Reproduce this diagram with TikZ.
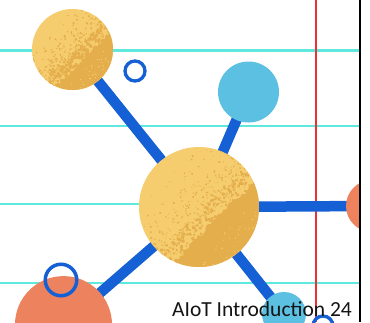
\documentclass[tikz,border=0pt]{standalone}
\usepackage{fontspec}
\setmainfont{Carlito}
\usetikzlibrary{backgrounds}

\definecolor{ruleCyan}{RGB}{95,232,222}
\definecolor{marginRed}{RGB}{235,50,50}
\definecolor{linkBlue}{RGB}{22,96,214}
\definecolor{skyBlue}{RGB}{92,192,227}
\definecolor{coralOrange}{RGB}{236,131,94}
\definecolor{sunLight}{RGB}{245,205,110}
\definecolor{sunDark}{RGB}{229,174,76}

% speckled shading on the lower-right half of a yellow ball
% #1 centre, #2 radius, #3 random seed
\newcommand\sunspeckle[3]{%
  \begin{scope}
    \clip (#1) circle (#2);
    \begin{scope}[shift={(#1)}, rotate=-45]
      \pgfmathsetseed{#3}
      % ragged edge of the shaded part
      \fill[sunDark] plot[domain=-1.1:1.1, samples=45]
          ({#2*(0.3+0.1*rnd)},{#2*\x})
          -- (#2+3,1.1*#2) -- (#2+3,-1.1*#2) -- cycle;
      % blotches along the edge
      \foreach \k in {1,...,180}{
        \pgfmathsetmacro\spa{#2*(0.36-0.3*rnd)}
        \pgfmathsetmacro\spb{#2*(2*rnd-1)}
        \pgfmathsetmacro\spr{0.5+1.5*rnd}
        \fill[sunDark] (\spa,\spb) circle (\spr);
      }
      % loose grains drifting into the light part
      \foreach \k in {1,...,380}{
        \pgfmathsetmacro\spa{#2*(0.2-0.95*rnd*rnd)}
        \pgfmathsetmacro\spb{#2*(2*rnd-1)}
        \pgfmathsetmacro\spr{0.4+0.8*rnd}
        \fill[sunDark] (\spa,\spb) circle (\spr);
      }
      % light grains scattered inside the shaded part
      \foreach \k in {1,...,60}{
        \pgfmathsetmacro\spa{#2*(0.55+0.45*rnd)}
        \pgfmathsetmacro\spb{#2*(2*rnd-1)}
        \pgfmathsetmacro\spr{0.4+0.5*rnd}
        \fill[sunLight] (\spa,\spb) circle (\spr);
      }
    \end{scope}
  \end{scope}}

\tikzset{
  ruleline/.style={draw=ruleCyan, line width=2.2pt},
  marginline/.style={draw=marginRed, line width=1.8pt},
  link/.style={draw=linkBlue, line width=10.5pt},
  ball/.style={circle, inner sep=0pt, draw=none},
  ring/.style={circle, inner sep=0pt, draw=linkBlue, fill=none},
}

\begin{document}
\begin{tikzpicture}[x=1pt,y=-1pt]
  \useasboundingbox (0,0) rectangle (370,322);
  \begin{pgfonlayer}{background}
    \fill[white] (0,0) rectangle (370,322);
    \foreach \yy in {50.5,126,204,283}{
      \draw[ruleline] (0,\yy) -- (359,\yy);
    }
    \draw[marginline] (315.6,0) -- (315.6,322);
  \end{pgfonlayer}

  \begin{scope}
    \clip (0,0) rectangle (370,322);

    % balls
    \node[ball, fill=sunLight, minimum size=120pt] (hub) at (199,207) {};
    \node[ball, fill=sunLight, minimum size=81pt] (sun) at (72.5,49.5) {};
    \node[ball, fill=skyBlue, minimum size=61pt] (sky) at (248.5,92) {};
    \node[ball, fill=coralOrange, minimum size=52pt] (ember) at (372,206) {};
    \node[ball, fill=skyBlue, minimum size=44pt] (drop) at (284,314) {};
    \node[ball, fill=coralOrange, minimum size=97pt] (coral) at (63.5,324.6) {};

    \sunspeckle{hub}{60}{11}
    \sunspeckle{sun}{40.5}{5}

    % connectors behind the balls
    \begin{pgfonlayer}{background}
      \draw[link] (hub.center) -- (sun.center);
      \draw[link] (hub.center) -- (sky.center);
      \draw[link] (hub.center) -- (ember.center);
      \draw[link] (hub.center) -- (drop.center);
      \draw[link] (hub.center) -- (coral.center);
    \end{pgfonlayer}

    % open rings
    \node[ring, line width=3.3pt, minimum size=20pt] (dot1) at (135,71) {};
    \node[ring, line width=3.5pt, minimum size=31.5pt] (dot2) at (61,280) {};
    \node[ring, line width=3.3pt, minimum size=20pt] (dot3) at (323,326) {};

    % page edge
    \fill[white] (361.2,0) rectangle (372,322);
    \draw[black, line width=2.7pt] (360,0) -- (360,322);
  \end{scope}

  \node[anchor=base west, inner sep=0pt, text=black!92,
        font=\fontsize{21.5}{24}\selectfont] (caption) at (172,316)
        {AIoT Introduction 24};
\end{tikzpicture}
\end{document}
